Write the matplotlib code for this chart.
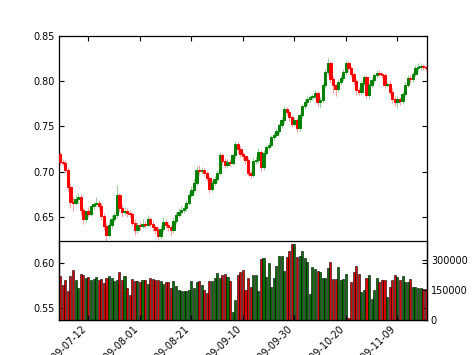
import matplotlib
matplotlib.use("Agg")
import matplotlib.pyplot as plt
import matplotlib.dates as mdates
from matplotlib.ticker import MaxNLocator, FixedLocator
import numpy as np
import pandas as pd

dates = pd.date_range("2009-07-01", "2009-11-20", freq="D")

opens = [0.720, 0.711, 0.710, 0.702, 0.683, 0.667, 0.666, 0.670, 0.672, 0.658,
         0.648, 0.657, 0.654, 0.662, 0.665, 0.666, 0.662, 0.651, 0.640, 0.631,
         0.641, 0.648, 0.652, 0.674, 0.660, 0.656, 0.657, 0.655, 0.654, 0.644,
         0.636, 0.641, 0.640, 0.643, 0.642, 0.648, 0.643, 0.639, 0.636, 0.629,
         0.637, 0.645, 0.642, 0.639, 0.636, 0.646, 0.652, 0.656, 0.658, 0.660,
         0.666, 0.675, 0.680, 0.688, 0.702, 0.701, 0.702, 0.699, 0.693, 0.681,
         0.688, 0.692, 0.699, 0.719, 0.712, 0.708, 0.711, 0.710, 0.718, 0.731,
         0.725, 0.720, 0.717, 0.713, 0.699, 0.697, 0.712, 0.713, 0.722, 0.705,
         0.721, 0.727, 0.730, 0.738, 0.741, 0.745, 0.751, 0.757, 0.769, 0.766,
         0.760, 0.753, 0.757, 0.748, 0.762, 0.772, 0.777, 0.780, 0.782, 0.783,
         0.787, 0.777, 0.779, 0.795, 0.810, 0.820, 0.802, 0.795, 0.791, 0.799,
         0.803, 0.810, 0.820, 0.814, 0.808, 0.800, 0.790, 0.788, 0.798, 0.804,
         0.784, 0.795, 0.801, 0.806, 0.809, 0.808, 0.807, 0.796, 0.797, 0.788,
         0.780, 0.777, 0.780, 0.778, 0.786, 0.796, 0.803, 0.802, 0.808, 0.814,
         0.815, 0.816, 0.815]

closes = [0.711, 0.710, 0.702, 0.683, 0.667, 0.666, 0.670, 0.672, 0.658, 0.648,
          0.657, 0.654, 0.662, 0.665, 0.666, 0.662, 0.651, 0.640, 0.631, 0.641,
          0.648, 0.652, 0.674, 0.660, 0.656, 0.657, 0.655, 0.654, 0.644, 0.636,
          0.641, 0.640, 0.643, 0.642, 0.648, 0.643, 0.639, 0.636, 0.629, 0.637,
          0.645, 0.642, 0.639, 0.636, 0.646, 0.652, 0.656, 0.658, 0.660, 0.666,
          0.675, 0.680, 0.688, 0.702, 0.701, 0.702, 0.699, 0.693, 0.681, 0.688,
          0.692, 0.699, 0.719, 0.712, 0.708, 0.711, 0.710, 0.718, 0.731, 0.725,
          0.720, 0.717, 0.713, 0.699, 0.697, 0.712, 0.713, 0.722, 0.705, 0.721,
          0.727, 0.730, 0.738, 0.741, 0.745, 0.751, 0.757, 0.769, 0.766, 0.760,
          0.753, 0.757, 0.748, 0.762, 0.772, 0.777, 0.780, 0.782, 0.783, 0.787,
          0.777, 0.779, 0.795, 0.810, 0.820, 0.802, 0.795, 0.791, 0.799, 0.803,
          0.810, 0.820, 0.814, 0.808, 0.800, 0.790, 0.788, 0.798, 0.804, 0.784,
          0.795, 0.801, 0.806, 0.809, 0.808, 0.807, 0.796, 0.797, 0.788, 0.780,
          0.777, 0.780, 0.778, 0.786, 0.796, 0.803, 0.802, 0.808, 0.814, 0.815,
          0.816, 0.815, 0.814]

highs = [0.722, 0.714, 0.713, 0.705, 0.688, 0.672, 0.674, 0.677, 0.676, 0.661,
         0.652, 0.661, 0.660, 0.667, 0.672, 0.669, 0.666, 0.655, 0.644, 0.645,
         0.652, 0.656, 0.685, 0.677, 0.663, 0.661, 0.660, 0.658, 0.656, 0.648,
         0.645, 0.645, 0.648, 0.646, 0.652, 0.650, 0.646, 0.642, 0.639, 0.641,
         0.650, 0.648, 0.645, 0.641, 0.649, 0.656, 0.660, 0.662, 0.664, 0.669,
         0.678, 0.684, 0.692, 0.706, 0.708, 0.705, 0.704, 0.701, 0.695, 0.691,
         0.695, 0.702, 0.722, 0.721, 0.715, 0.714, 0.714, 0.721, 0.734, 0.733,
         0.728, 0.723, 0.719, 0.716, 0.702, 0.715, 0.717, 0.726, 0.724, 0.724,
         0.730, 0.733, 0.741, 0.744, 0.748, 0.754, 0.760, 0.772, 0.771, 0.768,
         0.762, 0.760, 0.759, 0.765, 0.775, 0.780, 0.783, 0.785, 0.786, 0.790,
         0.789, 0.782, 0.798, 0.813, 0.825, 0.822, 0.805, 0.797, 0.802, 0.806,
         0.813, 0.823, 0.822, 0.816, 0.810, 0.802, 0.793, 0.801, 0.807, 0.806,
         0.798, 0.804, 0.809, 0.812, 0.812, 0.810, 0.809, 0.799, 0.800, 0.792,
         0.783, 0.783, 0.782, 0.789, 0.799, 0.806, 0.806, 0.811, 0.818, 0.820,
         0.820, 0.819, 0.818]

lows = [0.708, 0.707, 0.699, 0.679, 0.660, 0.657, 0.663, 0.666, 0.652, 0.643,
        0.645, 0.650, 0.651, 0.659, 0.662, 0.658, 0.647, 0.636, 0.624, 0.628,
        0.638, 0.645, 0.649, 0.656, 0.650, 0.652, 0.650, 0.650, 0.640, 0.631,
        0.633, 0.636, 0.638, 0.638, 0.640, 0.639, 0.635, 0.632, 0.625, 0.626,
        0.634, 0.638, 0.635, 0.631, 0.633, 0.643, 0.650, 0.653, 0.655, 0.657,
        0.663, 0.672, 0.677, 0.685, 0.697, 0.698, 0.695, 0.690, 0.677, 0.678,
        0.685, 0.689, 0.696, 0.708, 0.704, 0.705, 0.706, 0.707, 0.715, 0.721,
        0.716, 0.713, 0.709, 0.695, 0.693, 0.694, 0.709, 0.710, 0.701, 0.702,
        0.718, 0.724, 0.727, 0.735, 0.738, 0.742, 0.748, 0.754, 0.762, 0.756,
        0.749, 0.750, 0.744, 0.745, 0.759, 0.769, 0.774, 0.777, 0.779, 0.780,
        0.772, 0.770, 0.776, 0.792, 0.807, 0.798, 0.787, 0.783, 0.788, 0.796,
        0.800, 0.807, 0.810, 0.804, 0.796, 0.785, 0.784, 0.785, 0.795, 0.781,
        0.780, 0.792, 0.798, 0.803, 0.805, 0.803, 0.792, 0.793, 0.784, 0.776,
        0.772, 0.770, 0.774, 0.775, 0.783, 0.793, 0.798, 0.799, 0.805, 0.811,
        0.812, 0.812, 0.811]

volumes = [220000, 175000, 200000, 142000, 220000, 248000, 200000, 161000, 230000, 225000,
           212000, 217000, 200000, 204000, 217000, 200000, 204000, 184000, 209000, 220000,
           211000, 194000, 199000, 241000, 199000, 220000, 161000, 124000, 204000, 192000,
           192000, 187000, 200000, 200000, 180000, 212000, 206000, 199000, 197000, 194000,
           180000, 190000, 187000, 160000, 192000, 170000, 150000, 145000,
           144000, 144000, 150000, 195000, 161000, 187000, 192000, 175000, 150000, 136000,
           195000, 195000, 212000, 234000, 209000, 226000, 229000, 214000, 192000, 39000,
           97000, 226000, 239000, 248000, 150000, 209000, 163000, 226000, 226000, 143000,
           307000, 310000, 214000, 285000, 165000, 212000, 268000, 322000, 322000, 246000,
           316000, 344000, 381000, 381000, 316000, 322000, 344000, 309000,
           288000, 131000, 263000, 253000, 244000, 240000, 212000, 212000, 258000, 291000,
           207000, 207000, 266000, 198000, 204000, 229000, 9000, 190000, 240000, 271000,
           229000, 139000, 151000, 210000, 224000, 105000, 151000, 209000, 190000, 202000,
           202000, 113000, 164000, 202000, 224000, 215000, 198000, 219000, 190000, 190000,
           207000, 164000, 164000, 160000, 160000, 156000, 156000]

tick_dates = ["2009-07-12", "2009-08-01", "2009-08-21", "2009-09-10",
              "2009-09-30", "2009-10-20", "2009-11-09"]

plt.rcParams["font.family"] = "DejaVu Sans"
plt.rcParams["font.size"] = 6.9

x = mdates.date2num(dates.to_pydatetime())
o = np.array(opens); c = np.array(closes)
h = np.array(highs); l = np.array(lows); v = np.array(volumes)
up = c >= o
cols = np.where(up, "#008000", "#ff0000")

fig = plt.figure(figsize=(4.74, 3.55), dpi=100)
ax = fig.add_axes([0.125, 0.1, 0.775, 0.8])
axv = fig.add_axes([0.125, 0.1, 0.775, 0.221], sharex=ax)
axv.patch.set_alpha(0)

ax.vlines(x, l, h, colors=cols, linewidth=0.5, alpha=0.55, zorder=2)
body_h = np.abs(c - o)
body_h = np.where(body_h < 0.001, 0.001, body_h)
ax.bar(x, body_h, bottom=np.minimum(o, c), width=0.9, color=cols,
       edgecolor=cols, linewidth=0.7, zorder=3)

axv.bar(x, v, width=0.8, color=np.where(up, "#007000", "#dd0000"),
        edgecolor="black", linewidth=0.4)

ax.set_xlim(x[0] - 0.35, x[-1] + 0.35)
ax.set_ylim(0.5375, 0.85)
ax.set_yticks([0.55, 0.60, 0.65, 0.70, 0.75, 0.80, 0.85])
ax.yaxis.set_major_formatter(matplotlib.ticker.FormatStrFormatter("%.2f"))
axv.set_ylim(0, v.max() * 1.04)
axv.yaxis.set_major_locator(MaxNLocator(3))
axv.yaxis.tick_right()

tick_x = mdates.date2num(pd.to_datetime(tick_dates).to_pydatetime())
axv.xaxis.set_major_locator(FixedLocator(tick_x))
axv.xaxis.set_major_formatter(mdates.DateFormatter("%Y-%m-%d"))

for a in (ax, axv):
    a.tick_params(direction="in", length=3.5, width=0.8, pad=3)
    for s in a.spines.values():
        s.set_linewidth(0.9)
ax.tick_params(axis="x", top=True, bottom=True, labelbottom=False)
ax.tick_params(axis="y", left=True, right=True)
axv.tick_params(axis="x", top=False)
axv.tick_params(axis="y", left=False, right=True, labelright=True)
for lab in axv.get_xticklabels():
    lab.set_rotation(45)
    lab.set_ha("right")

fig.savefig("out.png", dpi=100, facecolor="white")
